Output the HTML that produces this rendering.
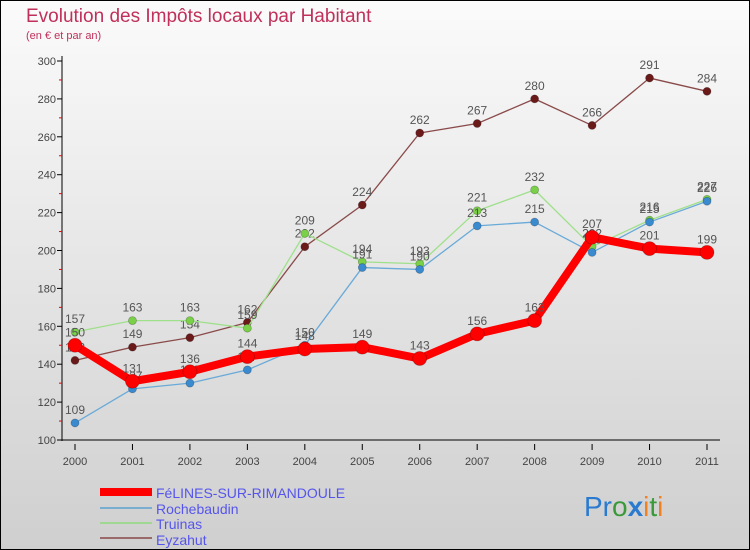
<!DOCTYPE html>
<html><head><meta charset="utf-8"><style>
body{margin:0}
#c{width:750px;height:550px;position:relative;overflow:hidden}
svg text{font-family:"Liberation Sans",sans-serif}
</style></head><body>
<div id="c">
<svg id="s" width="750" height="550" xmlns="http://www.w3.org/2000/svg">
<defs><linearGradient id="bg" x1="0" y1="0" x2="0" y2="1"><stop offset="0" stop-color="#fbfbfb"/><stop offset="1" stop-color="#cfcfcf"/></linearGradient></defs>
<rect x="0.5" y="0.5" width="749" height="549" fill="url(#bg)" stroke="#000"/>
<text x="26" y="22" font-size="19" fill="#c0305a">Evolution des Impôts locaux par Habitant</text>
<text x="26" y="39" font-size="11" fill="#c0305a">(en € et par an)</text>
<g id="axes"></g><g id="series"></g>
<g>
<rect x="100" y="488" width="52" height="8" fill="#f00"/>
<text x="156" y="498" font-size="14" fill="#5555ee">FéLINES-SUR-RIMANDOULE</text>
<rect x="100" y="507" width="52" height="2" fill="#7aaed0"/>
<text x="156" y="514" font-size="14" fill="#5555ee">Rochebaudin</text>
<rect x="100" y="522" width="52" height="2" fill="#9fd890"/>
<text x="156" y="529" font-size="14" fill="#5555ee">Truinas</text>
<rect x="100" y="537" width="52" height="2" fill="#9a6a6a"/>
<text x="156" y="545" font-size="14" fill="#5555ee">Eyzahut</text>
</g>
<text x="584" y="516" font-size="28"><tspan fill="#2a7ad0">Pr</tspan><tspan fill="#3a9a3a">o</tspan><tspan fill="#2a7ad0" font-weight="bold">x</tspan><tspan fill="#f08020">i</tspan><tspan fill="#3a9a3a">t</tspan><tspan fill="#f08020">i</tspan></text>
</svg></div>
<script>
const years=["2000","2001","2002","2003","2004","2005","2006","2007","2008","2009","2010","2011"];
const yTicks=[100,120,140,160,180,200,220,240,260,280,300];
const felines=[150,131,136,144,148,149,143,156,163,207,201,199];
const rochebaudin=[109,127,130,137,150,191,190,213,215,199,215,226];
const truinas=[157,163,163,159,209,194,193,221,232,202,216,227];
const eyzahut=[142,149,154,162,202,224,262,267,280,266,291,284];
const NS="http://www.w3.org/2000/svg";
const x=i=>75+i*(707-75)/11;
const y=v=>440-(v-100)*(379/200);
function mk(t,a,p){const e=document.createElementNS(NS,t);for(const k in a)e.setAttribute(k,a[k]);p.appendChild(e);return e;}
const ax=document.getElementById('axes');
let e=mk('line',{x1:62,y1:56,x2:62,y2:441,stroke:'#000'},ax);


e=mk('line',{x1:62,y1:440,x2:720,y2:440,stroke:'#000'},ax);


yTicks.forEach((v,i)=>{
 mk('line',{x1:57,y1:y(v),x2:62,y2:y(v),stroke:'#000'},ax);
 if(i<yTicks.length-1) mk('line',{x1:59,y1:y(v+10),x2:62,y2:y(v+10),stroke:'#e00'},ax);
 const t=mk('text',{x:56,y:y(v)+4,'font-size':11,'text-anchor':'end',fill:'#444'},ax);t.textContent=v;
 
 
});
years.forEach((yr,i)=>{
 mk('line',{x1:x(i),y1:444,x2:x(i),y2:450,stroke:'#000'},ax);
 const t=mk('text',{x:x(i),y:465,'font-size':11,'text-anchor':'middle',fill:'#444'},ax);t.textContent=yr;
 
 
});
const sg=document.getElementById('series');
function draw(name,data,col,w,r,fill){
 const g=mk('g',{},sg);
 
 
 const pl=mk('polyline',{points:data.map((v,i)=>x(i)+','+y(v)).join(' '),fill:'none',stroke:col,'stroke-width':w,'stroke-linejoin':'round'},g);
 
 
 data.forEach((v,i)=>{
  const c=mk('circle',{cx:x(i),cy:y(v),r:r,fill:fill,stroke:'rgba(0,0,0,0.25)','stroke-width':0.8},g);
  
  
  const t=mk('text',{x:x(i),y:y(v)-9,'font-size':12,'text-anchor':'middle',fill:'#555'},g);t.textContent=v;
  
  
 });
}
draw('eyzahut',eyzahut,'#8a4a4a',1.3,4,'#6b1a1a');
draw('truinas',truinas,'#9fe08a',1.3,4,'#7ad048');
draw('rochebaudin',rochebaudin,'#6aaad8',1.3,4,'#3a8ad0');
draw('felines',felines,'#f00',8,7,'#f00');
</script>
</body></html>
